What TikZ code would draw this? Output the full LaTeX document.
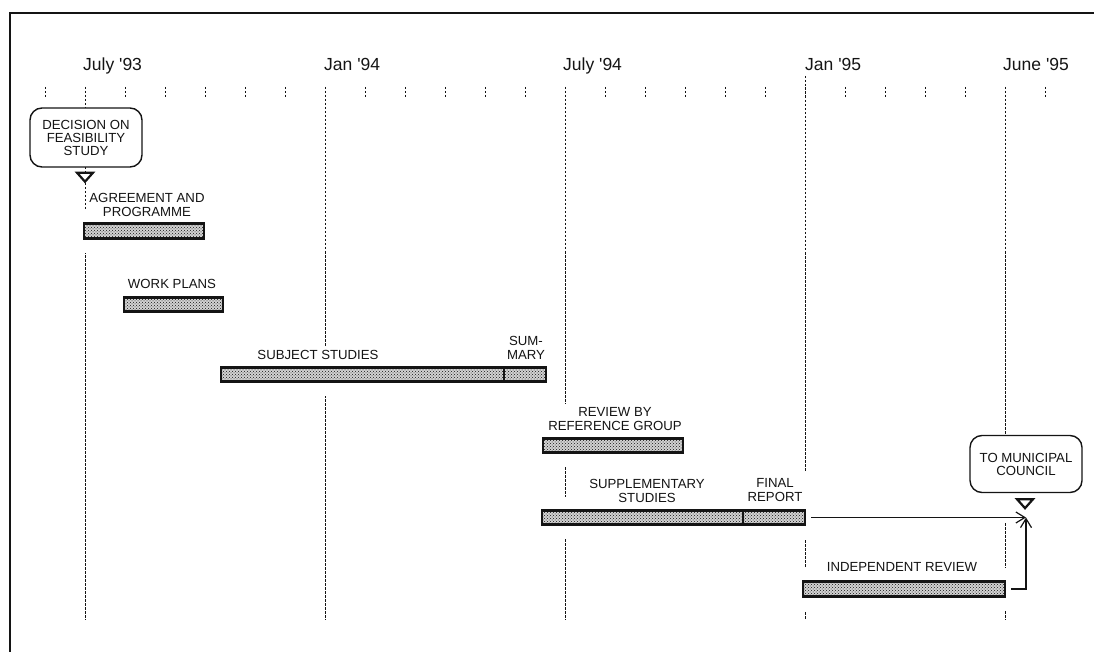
\documentclass[tikz,border=0pt]{standalone}
\usepackage{fontspec}
\setmainfont{Liberation Sans}
\usetikzlibrary{arrows.meta,patterns}
\definecolor{chartink}{HTML}{141414}
\definecolor{chartfill}{HTML}{D2D2D2}
\pgfdeclarelayer{gridlayer}
\pgfdeclarelayer{halolayer}
\pgfsetlayers{gridlayer,halolayer,main}

\begin{document}
\begin{tikzpicture}[x=1pt, y=-1pt, >={Straight Barb[length=9pt,width=11pt,line width=1.2pt]},
                    every node/.style={chartink},
                    month/.style={anchor=base west, inner sep=0pt, font=\fontsize{17.5}{20}\selectfont},
                    lbl/.style={fill=white, inner sep=3pt, align=center, font=\fontsize{13.2}{14}\selectfont},
                    bar/.style={draw=chartink, line width=2.8pt, fill=chartfill, inner sep=0pt,
                                minimum height=14.5pt,
                                postaction={pattern=crosshatch dots, pattern color=chartink}},
                    stagebox/.style={draw=chartink, line width=1.4pt, fill=white, rounded corners=12pt,
                                     inner sep=0pt, align=center, font=\fontsize{13.2}{13}\selectfont},
                    gridline/.style={chartink, line width=0.8pt, dash pattern=on 2.5pt off 1.5pt},
                    marker/.style={draw=chartink, line width=2.2pt, fill=white, line join=miter}]

  \useasboundingbox (0,0) rectangle (1094,652);

  %% 外框：只看得到上緣與左緣
  \draw[chartink, line width=2pt] (10,652) -- (10,13) -- (1094,13);

  %% 月份刻度，每月 40pt，July '93 在 x=85
  \begin{pgfonlayer}{gridlayer}
    \foreach \m in {-1,...,24}
      \draw[gridline] (85+40*\m,87) -- (85+40*\m,97);
    \foreach \m/\top in {0/87, 6/87, 12/87, 18/76}
      \draw[gridline] (85+40*\m,\top) -- (85+40*\m,620);
    %% June '95 那條在委員會方框下方斷開
    \draw[gridline] (1005,87) -- (1005,440);
    \draw[gridline] (1005,523) -- (1005,620);
  \end{pgfonlayer}

  %% 月份標示
  \node[month] (jul93) at (83,71)   {July \textquotesingle93};
  \node[month] (jan94) at (324,71)  {Jan \textquotesingle94};
  \node[month] (jul94) at (563,71)  {July \textquotesingle94};
  \node[month] (jan95) at (805,71)  {Jan \textquotesingle95};
  \node[month] (jun95) at (1003,71) {June \textquotesingle95};

  %% 各工作階段的長條
  \node[bar, minimum width=120pt] (agr)   at (144,231)   {};
  \node[bar, minimum width=99pt]  (wrk)   at (173.5,304.5) {};
  \node[bar, minimum width=283pt] (subj)  at (362.5,374.5) {};
  \node[bar, minimum width=42pt]  (summ)  at (525,374.5) {};
  \node[bar, minimum width=140pt] (rev)   at (613,445.5) {};
  \node[bar, minimum width=201pt] (supp)  at (642.5,517.5) {};
  \node[bar, minimum width=62pt]  (fin)   at (774,517.5) {};
  \node[bar, minimum width=202pt] (indep) at (904,589) {};

  %% 長條四周留白，把虛線蓋掉
  \begin{pgfonlayer}{halolayer}
    \foreach \b in {agr,wrk,subj,summ,rev,supp,fin,indep}
      \fill[white] ([shift={(-11pt,12pt)}]\b.north west) rectangle ([shift={(11pt,-13pt)}]\b.south east);
  \end{pgfonlayer}

  %% 長條上方的說明文字
  \node[lbl] (agrlbl)   at (147,205) {AGREEMENT AND\\PROGRAMME};
  \node[lbl] (wrklbl)   at (172,284) {WORK PLANS};
  \node[lbl] (subjlbl)  at (318,355) {SUBJECT STUDIES};
  \node[lbl] (summlbl)  at (526,348) {SUM-\\MARY};
  \node[lbl] (revlbl)   at (615,419) {REVIEW BY\\REFERENCE GROUP};
  \node[lbl] (supplbl)  at (647,491) {SUPPLEMENTARY\\STUDIES};
  \node[lbl, inner sep=6pt] (finlbl) at (775,490) {FINAL\\REPORT};
  \node[lbl] (indeplbl) at (902,567) {INDEPENDENT REVIEW};

  %% 起點與終點的決策方框
  \node[stagebox, minimum width=112pt, minimum height=59pt] (dec) at (86,137.5)
    {DECISION ON\\FEASIBILITY\\STUDY};
  \node[stagebox, minimum width=112pt, minimum height=57pt] (council) at (1026,464)
    {\rule{0pt}{4pt}TO MUNICIPAL\\COUNCIL};

  %% 方框下方的倒三角
  \draw[marker] ([shift={(-9pt,-5pt)}]dec.south) -- ++(16pt,0pt) -- ++(-8pt,-9pt) -- cycle;
  \draw[marker] ([shift={(-9pt,-6pt)}]council.south) -- ++(16pt,0pt) -- ++(-8pt,-9pt) -- cycle;

  %% 兩條箭頭匯入市議會
  \coordinate (cin) at (1026,517.5);
  \draw[chartink, line width=1.2pt, ->] ([xshift=5pt]fin.east) -- (cin);
  \draw[chartink, line width=1.2pt, ->] ([xshift=5pt]indep.east) -| (cin);

\end{tikzpicture}
\end{document}
